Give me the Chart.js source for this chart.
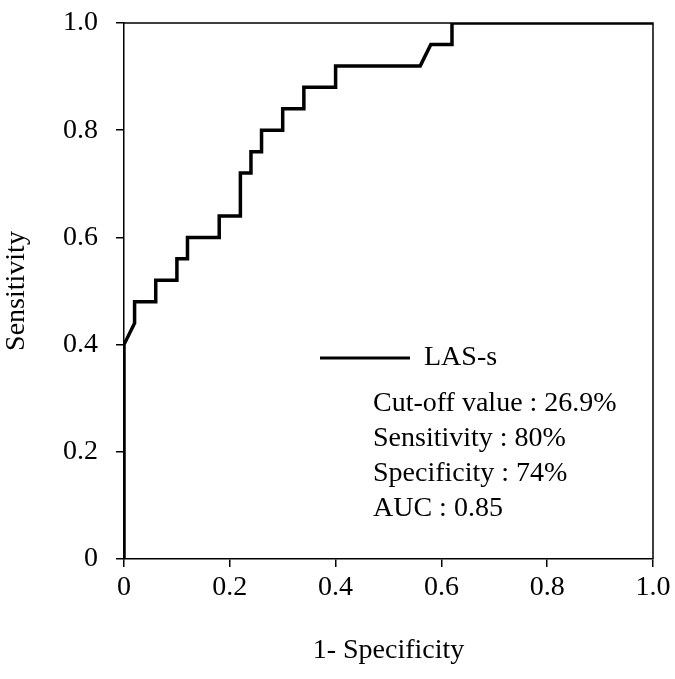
<!DOCTYPE html>
<html>
<head>
<meta charset="utf-8">
<script src="https://cdn.jsdelivr.net/npm/chart.js@4"></script>
<style>
  html, body { margin: 0; padding: 0; background: #fff; }
</style>
</head>
<body>
<canvas id="rocChart" width="675" height="679"></canvas>
<script>
// ROC curve points (1 - specificity, sensitivity)
const fprValues = [0, 0, 0.02, 0.02, 0.06, 0.06, 0.10, 0.10, 0.12, 0.12, 0.18, 0.18, 0.22, 0.22,
                   0.24, 0.24, 0.26, 0.26, 0.30, 0.30, 0.34, 0.34, 0.40, 0.40, 0.56, 0.58, 0.62, 0.62, 1.0];
const tprValues = [0, 0.40, 0.44, 0.48, 0.48, 0.52, 0.52, 0.56, 0.56, 0.60, 0.60, 0.64, 0.64, 0.72,
                   0.72, 0.76, 0.76, 0.80, 0.80, 0.84, 0.84, 0.88, 0.88, 0.92, 0.92, 0.96, 0.96, 1.0, 1.0];
const tickValues = [0, 0.2, 0.4, 0.6, 0.8, 1.0];
const seriesLabel = "LAS-s";
const statsLines = [
    "Cut-off value : 26.9%",
    "Sensitivity : 80%",
    "Specificity : 74%",
    "AUC : 0.85"
];

const FONT = "'Liberation Serif', 'Times New Roman', serif";
const FONT_SIZE = 28;

function tickLabel(v) {
    return v === 0 ? "0" : v.toFixed(1);
}

// Draw the box round the plot plus the in-chart legend and stats
const boxAndNotes = {
    id: "boxAndNotes",
    afterDraw(chart) {
        const { ctx, chartArea } = chart;
        ctx.save();
        ctx.strokeStyle = "#000";
        ctx.lineWidth = 1.5;
        ctx.beginPath();
        ctx.moveTo(chartArea.left, chartArea.top);
        ctx.lineTo(chartArea.right, chartArea.top);
        ctx.lineTo(chartArea.right, chartArea.bottom);
        ctx.stroke();

        // legend entry
        ctx.lineWidth = 3;
        ctx.beginPath();
        ctx.moveTo(320, 358);
        ctx.lineTo(410, 358);
        ctx.stroke();

        ctx.fillStyle = "#000";
        ctx.font = FONT_SIZE + "px " + FONT;
        ctx.textBaseline = "middle";
        ctx.textAlign = "left";
        ctx.fillText(seriesLabel, 424, 358);

        statsLines.forEach((line, i) => {
            ctx.fillText(line, 373, 404 + i * 35);
        });
        ctx.restore();
    }
};

const points = fprValues.map((x, i) => ({ x: x, y: tprValues[i] }));

new Chart(document.getElementById("rocChart").getContext("2d"), {
    type: "line",
    data: {
        datasets: [{
            label: seriesLabel,
            data: points,
            borderColor: "#000",
            borderWidth: 3.5,
            pointRadius: 0,
            tension: 0,
            fill: false
        }]
    },
    options: {
        responsive: false,
        animation: false,
        layout: { padding: { top: 23, right: 22, bottom: 0, left: 0 } },
        plugins: {
            legend: { display: false },
            tooltip: { enabled: false }
        },
        scales: {
            x: {
                type: "linear",
                min: 0,
                max: 1,
                afterBuildTicks: scale => { scale.ticks = tickValues.map(v => ({ value: v })); },
                afterFit: scale => {
                    scale.height = 120;
                    scale.paddingLeft = 0;
                    scale.paddingRight = 0;
                },
                grid: { drawOnChartArea: false, drawTicks: true, tickLength: 8, color: "#000", lineWidth: 1.5 },
                border: { display: true, color: "#000", width: 1.5 },
                ticks: {
                    color: "#000",
                    padding: 4,
                    maxRotation: 0,
                    font: { family: FONT, size: FONT_SIZE },
                    callback: v => tickLabel(v)
                },
                title: {
                    display: true,
                    text: "1- Specificity",
                    color: "#000",
                    font: { family: FONT, size: FONT_SIZE },
                    padding: { top: 0, bottom: 12 }
                }
            },
            y: {
                type: "linear",
                min: 0,
                max: 1,
                afterBuildTicks: scale => { scale.ticks = tickValues.map(v => ({ value: v })); },
                afterFit: scale => {
                    scale.width = 124;
                    scale.paddingTop = 0;
                    scale.paddingBottom = 0;
                },
                grid: { drawOnChartArea: false, drawTicks: true, tickLength: 8, color: "#000", lineWidth: 1.5 },
                border: { display: true, color: "#000", width: 1.5 },
                ticks: {
                    color: "#000",
                    padding: 18,
                    font: { family: FONT, size: FONT_SIZE },
                    callback: v => tickLabel(v)
                },
                title: {
                    display: true,
                    text: "Sensitivity",
                    color: "#000",
                    font: { family: FONT, size: FONT_SIZE },
                    padding: { top: 0, bottom: 0 }
                }
            }
        }
    },
    plugins: [boxAndNotes]
});
</script>
</body>
</html>
